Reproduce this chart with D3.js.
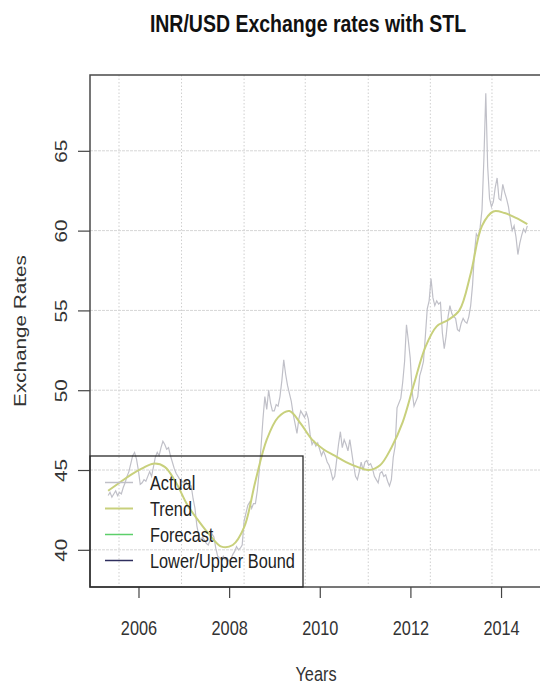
<!DOCTYPE html>
<html>
<head>
<meta charset="utf-8">
<script src="https://cdn.jsdelivr.net/npm/d3@7"></script>
<style>
  html, body { margin: 0; padding: 0; background: #fff; }
  svg { display: block; }
  text { font-family: "Liberation Sans", Arial, Helvetica, sans-serif; fill: #222; }
</style>
</head>
<body>
<svg id="chart" width="540" height="687"></svg>
<script>
// INR per USD, semi-monthly observations starting mid-2005
const actualStart = 2005.33;
const actualStep = 1 / 24;
const actualValues = [
  // 2005
  43.4, 43.6, 43.3, 43.5, 43.7, 43.4, 43.6, 43.5, 43.9, 44.2, 44.6, 44.9, 45.4, 45.9, 46.1, 45.7,
  // 2006
  45.0, 44.1, 44.2, 44.4, 44.3, 44.6, 44.9, 44.6, 45.2, 45.8, 46.1, 45.9, 46.4, 46.8, 46.6, 46.3, 46.4, 45.9, 45.5, 45.1, 44.8, 44.6, 44.4, 44.3,
  // 2007
  44.2, 44.3, 44.1, 44.0, 44.0, 43.2, 42.6, 41.5, 40.9, 40.6, 40.8, 40.6, 40.4, 40.3, 40.6, 41.0, 40.8, 40.1, 39.6, 39.5, 39.4, 39.6, 39.4, 39.5,
  // 2008
  39.3, 39.4, 39.7, 39.9, 40.2, 40.0, 40.1, 40.3, 41.8, 42.3, 42.8, 43.0, 42.6, 42.9, 42.9, 43.7, 44.9, 46.5, 48.2, 49.6, 48.8, 50.0, 49.2, 48.7,
  // 2009
  48.7, 49.1, 49.0, 49.6, 50.6, 51.9, 51.0, 50.3, 49.8, 49.3, 48.5, 47.9, 47.3, 48.2, 48.7, 48.5, 48.3, 48.6, 48.2, 47.2, 46.6, 46.8, 46.5, 46.7,
  // 2010
  46.3, 45.9, 46.2, 45.9, 45.5, 45.3, 44.9, 44.4, 44.6, 45.6, 46.6, 47.4, 46.4, 46.9, 46.6, 46.2, 46.9, 46.1, 45.3, 44.6, 44.4, 44.9, 45.5, 45.0,
  // 2011
  45.5, 45.6, 45.3, 45.4, 45.1, 44.6, 44.4, 44.2, 44.8, 44.9, 44.6, 44.7, 44.3, 44.0, 44.4, 45.8, 46.5, 48.9, 49.2, 49.5, 50.5, 51.8, 54.1, 53.1,
  // 2012
  52.0, 49.9, 49.0, 49.3, 49.6, 50.9, 51.3, 51.8, 53.4, 55.1, 55.6, 57.0, 55.8, 55.3, 55.6, 55.4, 55.5, 53.6, 52.6, 53.4, 54.6, 55.3, 54.8, 54.6,
  // 2013
  54.5, 53.8, 53.7, 54.2, 54.5, 54.3, 54.2, 54.6, 55.3, 56.6, 58.6, 59.8, 59.6, 60.2, 61.3, 64.5, 68.6, 64.0, 62.0, 61.5, 61.8, 62.7, 63.3, 62.0,
  // 2014
  61.9, 62.9, 62.4, 62.0, 61.5, 60.7, 60.0, 60.3, 59.6, 58.5, 59.2, 59.7, 60.1, 59.9, 60.3
];

// STL trend component, quarterly
const trendStart = 2005.33;
const trendStep = 0.25;
const trendValues = [
  43.7, 44.2, 44.7, 45.1, 45.4, 45.2, 44.2, 42.8, 41.8, 40.9, 40.2, 40.3, 41.4, 44.3, 46.9, 48.3,
  48.7, 47.9, 46.9, 46.3, 45.9, 45.5, 45.2, 45.0, 45.3, 46.4, 48.0, 50.4, 52.7, 54.0, 54.4, 55.0,
  57.3, 60.3, 61.2, 61.1, 60.8, 60.4
];

const xTicks = [2006, 2008, 2010, 2012, 2014];
const yTicks = [40, 45, 50, 55, 60, 65];
const gridYears = [2005.57, 2006.95, 2008.33, 2009.68, 2011.07, 2012.44, 2013.80];
const legendLabels = ["Actual", "Trend", "Forecast", "Lower/Upper Bound"];
const legendColors = ["#c0c0c8", "#c8d07c", "#5ccf6a", "#2e2e5e"];

const svg = d3.select("#chart");
const plot = { left: 90, right: 545, top: 75, bottom: 587 };
const stretch = 1.27;      // vertical glyph stretch
const fs = 16.3;

const x = d3.scaleLinear().domain([2004.93, 2014.97]).range([plot.left, plot.right]);
const y = d3.scaleLinear().domain([37.67, 69.75]).range([plot.bottom, plot.top]);

svg.append("defs").append("clipPath").attr("id", "clip")
  .append("rect")
  .attr("x", plot.left).attr("y", plot.top)
  .attr("width", plot.right - plot.left).attr("height", plot.bottom - plot.top);

// grid
const grid = svg.append("g");
grid.selectAll("line.v").data(gridYears).join("line")
  .attr("x1", d => x(d)).attr("x2", d => x(d))
  .attr("y1", plot.top).attr("y2", plot.bottom)
  .attr("stroke", "#cfcfcf").attr("stroke-width", 1)
  .attr("stroke-dasharray", "1.5,2");
grid.selectAll("line.h").data(yTicks).join("line")
  .attr("x1", plot.left).attr("x2", plot.right)
  .attr("y1", d => y(d)).attr("y2", d => y(d))
  .attr("stroke", "#d6d6d6").attr("stroke-width", 1)
  .attr("stroke-dasharray", "3,1");

// series
const actual = actualValues.map((v, i) => ({ t: actualStart + i * actualStep, v }));
const trend = trendValues.map((v, i) => ({ t: trendStart + i * trendStep, v }));

const data = svg.append("g").attr("clip-path", "url(#clip)");
data.append("path")
  .datum(actual)
  .attr("fill", "none")
  .attr("stroke", legendColors[0])
  .attr("stroke-width", 1.2)
  .attr("d", d3.line().x(d => x(d.t)).y(d => y(d.v)));
data.append("path")
  .datum(trend)
  .attr("fill", "none")
  .attr("stroke", legendColors[1])
  .attr("stroke-width", 2)
  .attr("d", d3.line().curve(d3.curveCatmullRom.alpha(0.5)).x(d => x(d.t)).y(d => y(d.v)));

// frame
svg.append("rect")
  .attr("x", plot.left).attr("y", plot.top)
  .attr("width", plot.right - plot.left).attr("height", plot.bottom - plot.top)
  .attr("fill", "none").attr("stroke", "#4a4a4a").attr("stroke-width", 1.5);

// x axis
const xAxis = svg.append("g")
  .attr("transform", `translate(0,${plot.bottom})`)
  .call(d3.axisBottom(x).tickValues(xTicks).tickSize(11).tickFormat(d3.format("d")));
xAxis.select(".domain").remove();
xAxis.selectAll(".tick line").attr("stroke", "#444").attr("stroke-width", 1.2);
xAxis.selectAll(".tick text")
  .attr("y", null).attr("dy", null)
  .attr("transform", `translate(0,${635 - plot.bottom}) scale(1,${stretch})`)
  .style("font-size", fs + "px").style("fill", "#333").attr("text-anchor", "middle");

// y axis
const yAxis = svg.append("g")
  .attr("transform", `translate(${plot.left},0)`)
  .call(d3.axisLeft(y).tickValues(yTicks).tickSize(12));
yAxis.select(".domain").remove();
yAxis.selectAll(".tick line").attr("stroke", "#444").attr("stroke-width", 1.2);
yAxis.selectAll(".tick text")
  .attr("x", null).attr("dy", null)
  .attr("transform", `translate(${67 - plot.left},0) scale(1,${stretch}) rotate(-90)`)
  .attr("text-anchor", "middle")
  .style("font-size", fs + "px").style("fill", "#333");

// titles
svg.append("text")
  .attr("transform", `translate(308,32) scale(1,1.25)`)
  .attr("text-anchor", "middle")
  .style("font-size", "19.5px").style("font-weight", "bold").style("fill", "#111")
  .text("INR/USD Exchange rates with STL");
svg.append("text")
  .attr("transform", `translate(316,681) scale(1,${stretch})`)
  .attr("text-anchor", "middle")
  .style("font-size", fs + "px").style("fill", "#333")
  .text("Years");
svg.append("text")
  .attr("transform", `translate(26,331) scale(1,${stretch}) rotate(-90)`)
  .attr("text-anchor", "middle")
  .style("font-size", fs + "px").style("fill", "#333")
  .text("Exchange Rates");

// legend
const legend = svg.append("g");
legend.append("rect")
  .attr("x", plot.left).attr("y", 456)
  .attr("width", 303 - plot.left).attr("height", plot.bottom - 456)
  .attr("fill", "none").attr("stroke", "#2a2a2a").attr("stroke-width", 1.3);
const rows = legend.selectAll("g.row").data(legendLabels).join("g")
  .attr("transform", (d, i) => `translate(0,${482.5 + i * 26})`);
rows.append("line")
  .attr("x1", 105).attr("x2", 133).attr("y1", 0).attr("y2", 0)
  .attr("stroke", (d, i) => legendColors[i])
  .attr("stroke-width", (d, i) => i === 1 ? 2 : 1.5);
rows.append("text")
  .attr("transform", `translate(150,7.5) scale(1,${stretch})`)
  .style("font-size", fs + "px").style("fill", "#222")
  .text(d => d);
</script>
</body>
</html>
